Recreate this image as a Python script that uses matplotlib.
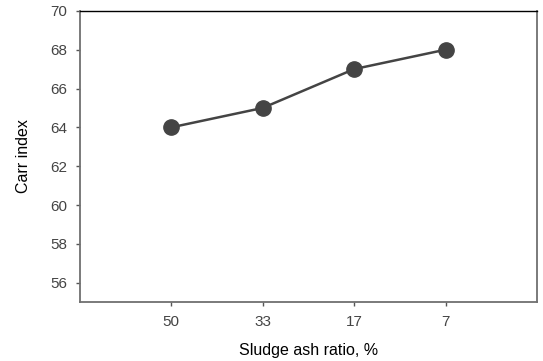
import matplotlib.pyplot as plt

ratio_labels = ['50', '33', '17', '7']
carr_index = [64, 65, 67, 68]
y_ticks = [56, 58, 60, 62, 64, 66, 68, 70]

plt.rcParams['font.family'] = ['Liberation Sans', 'DejaVu Sans']

fig = plt.figure(figsize=(5.43, 3.61), dpi=100)
ax = fig.add_axes([0.147, 0.163, 0.842, 0.807])

x = list(range(len(ratio_labels)))
ax.plot(x, carr_index, color='#444444', linewidth=1.8, marker='o',
        markersize=11, markerfacecolor='#444444', markeredgecolor='#444444')

ax.set_xlim(-1, 4)
ax.set_ylim(55, 70)
ax.set_xticks(x)
ax.set_xticklabels(ratio_labels)
ax.set_yticks(y_ticks)

ax.tick_params(direction='out', length=3, width=1, colors='#555555',
               labelsize=11, labelcolor='#444444', pad=6)

ax.spines['top'].set_color('black')
ax.spines['top'].set_linewidth(1)
for s in ['left', 'bottom', 'right']:
    ax.spines[s].set_color('#707070')
    ax.spines[s].set_linewidth(1.3)

ax.set_xlabel('Sludge ash ratio, %', fontsize=11.5, labelpad=10)
ax.set_ylabel('Carr index', fontsize=11.5, labelpad=14)

fig.savefig('out.png', dpi=100)
